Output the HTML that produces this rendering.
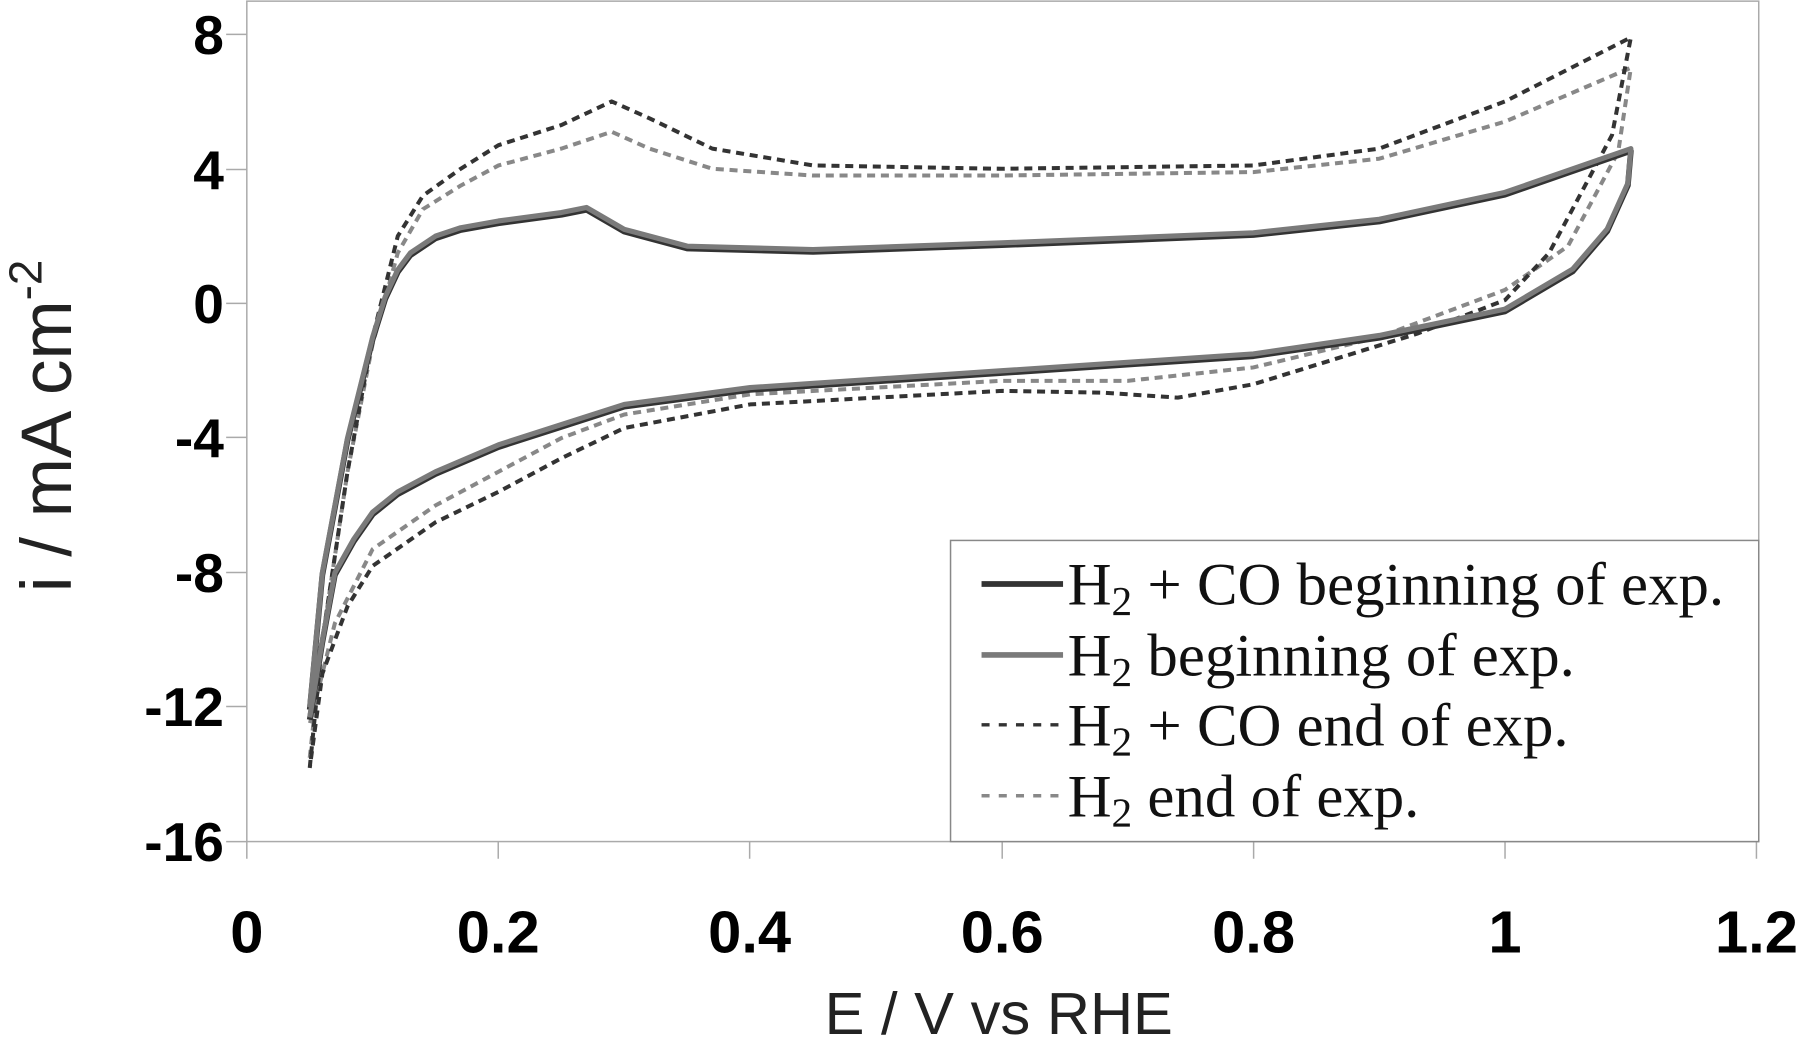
<!DOCTYPE html>
<html><head><meta charset="utf-8"><style>
html,body{margin:0;padding:0;background:#fff;}
svg{display:block;}
</style></head><body>
<svg width="1800" height="1043" xmlns="http://www.w3.org/2000/svg">
<g transform="scale(1.148,1.145)">
<rect x="215" y="1" width="1317" height="734" fill="none" stroke="#aaa" stroke-width="1.3"/>
<g stroke="#aaa" stroke-width="1.3">
<line x1="197" y1="30" x2="215" y2="30"/><line x1="197" y1="148" x2="215" y2="148"/><line x1="197" y1="265" x2="215" y2="265"/><line x1="197" y1="382" x2="215" y2="382"/><line x1="197" y1="500" x2="215" y2="500"/><line x1="197" y1="617" x2="215" y2="617"/><line x1="197" y1="735" x2="215" y2="735"/>
<line x1="215" y1="735" x2="215" y2="750"/><line x1="434" y1="735" x2="434" y2="750"/><line x1="653" y1="735" x2="653" y2="750"/><line x1="873" y1="735" x2="873" y2="750"/><line x1="1092" y1="735" x2="1092" y2="750"/><line x1="1311" y1="735" x2="1311" y2="750"/><line x1="1530" y1="735" x2="1530" y2="750"/>
</g>
<g font-family="Liberation Sans, sans-serif" font-weight="bold" font-size="48" text-anchor="end" fill="#000">
<text x="195" y="47">8</text><text x="195" y="165">4</text><text x="195" y="282">0</text><text x="195" y="399">-4</text><text x="195" y="517">-8</text><text x="195" y="634">-12</text><text x="195" y="752">-16</text>
</g>
<g font-family="Liberation Sans, sans-serif" font-weight="bold" font-size="52" text-anchor="middle" fill="#000">
<text x="215" y="832">0</text><text x="434" y="832">0.2</text><text x="653" y="832">0.4</text><text x="873" y="832">0.6</text><text x="1092" y="832">0.8</text><text x="1311" y="832">1</text><text x="1530" y="832">1.2</text>
</g>
<text x="870" y="903" font-family="Liberation Sans, sans-serif" font-size="52" text-anchor="middle" fill="#222">E / V vs RHE</text>
<text transform="translate(62,372) rotate(-90)" font-family="Liberation Sans, sans-serif" font-size="62" text-anchor="middle" fill="#222">i / mA cm<tspan dy="-26" font-size="40">-2</tspan></text>
<g fill="none" stroke-linejoin="round" stroke-linecap="butt">
<polyline stroke="#888" stroke-width="3.5" stroke-dasharray="7,5" points="269.8,661.9 280.8,559 302.7,412 324.6,300.3 346.5,220.9 368.4,182.7 401.3,162.1 434.2,144.5 489,129.8 532.8,115.1 565.7,129.8 620.5,147.4 708.2,153.3 872.6,153.3 1091.8,150.3 1201.4,138.6 1311,106.2 1420.6,59.2 1409.6,132.7 1365.8,215 1311,253.2 1201.4,294.4 1091.8,320.9 982.2,332.6 872.6,332.6 653.4,344.4 543.8,362 489,382.6 434.2,412 379.4,441.4 324.6,479.6 291.7,544.3 269.8,632.5"/>
<polyline stroke="#333" stroke-width="3.5" stroke-dasharray="7,5" points="269.8,670.7 280.8,559 302.7,412 324.6,294.4 346.5,206.2 368.4,170.9 401.3,147.4 434.2,126.8 489,109.2 532.8,88.6 565.7,103.3 620.5,129.8 708.2,144.5 872.6,147.4 1091.8,144.5 1201.4,129.8 1311,88.6 1420.6,32.7 1404.2,118 1349.4,220.9 1311,262.1 1234.3,291.5 1091.8,335.6 1026,347.3 960.3,342.9 872.6,341.4 653.4,353.2 543.8,373.8 489,400.2 434.2,429.6 379.4,456.1 324.6,494.3 302.7,529.6 280.8,588.4 269.8,670.7"/>
<polyline stroke="#333" stroke-width="5" transform="translate(0,2)" points="269.8,617.8 280.8,500.2 302.7,382.6 324.6,294.4 335.6,259.1 346.5,235.6 357.5,220.9 379.4,206.2 401.3,198.9 434.2,193 489,185.6 510.9,181.2 543.8,200.3 598.6,215 708.2,218 872.6,212.1 1091.8,203.3 1201.4,191.5 1311,168 1420.6,129.8 1418,160 1400,200 1370,235 1311,270 1201.4,293 1091.8,309.1 872.6,323.8 653.4,338.5 543.8,353.2 489,370.8 434.2,388.5 379.4,412 346.5,429.6 324.6,447.3 308.2,470.8 291.7,500.2 280.8,559 269.8,626.6"/>
<polyline stroke="#7a7a7a" stroke-width="4.5" points="269.8,617.8 280.8,500.2 302.7,382.6 324.6,294.4 335.6,259.1 346.5,235.6 357.5,220.9 379.4,206.2 401.3,198.9 434.2,193 489,185.6 510.9,181.2 543.8,200.3 598.6,215 708.2,218 872.6,212.1 1091.8,203.3 1201.4,191.5 1311,168 1420.6,129.8 1418,160 1400,200 1370,235 1311,270 1201.4,293 1091.8,309.1 872.6,323.8 653.4,338.5 543.8,353.2 489,370.8 434.2,388.5 379.4,412 346.5,429.6 324.6,447.3 308.2,470.8 291.7,500.2 280.8,559 269.8,626.6"/>
</g>
<rect x="828" y="472" width="704" height="263" fill="#fff" stroke="#888" stroke-width="1.3"/>
<line x1="855" y1="510" x2="926" y2="510" stroke="#333" stroke-width="5"/>
<line x1="855" y1="572" x2="926" y2="572" stroke="#7a7a7a" stroke-width="5"/>
<line x1="855" y1="633" x2="926" y2="633" stroke="#333" stroke-width="3" stroke-dasharray="7,8"/>
<line x1="855" y1="695" x2="926" y2="695" stroke="#888" stroke-width="3" stroke-dasharray="7,8"/>
<g font-family="Liberation Serif, serif" font-size="53" fill="#111">
<text x="930" y="528">H<tspan dy="9" font-size="36">2</tspan><tspan dy="-9"> + CO beginning of exp.</tspan></text>
<text x="930" y="590">H<tspan dy="9" font-size="36">2</tspan><tspan dy="-9"> beginning of exp.</tspan></text>
<text x="930" y="651">H<tspan dy="9" font-size="36">2</tspan><tspan dy="-9"> + CO end of exp.</tspan></text>
<text x="930" y="713">H<tspan dy="9" font-size="36">2</tspan><tspan dy="-9"> end of exp.</tspan></text>
</g>
</g>
</svg>
</body></html>
